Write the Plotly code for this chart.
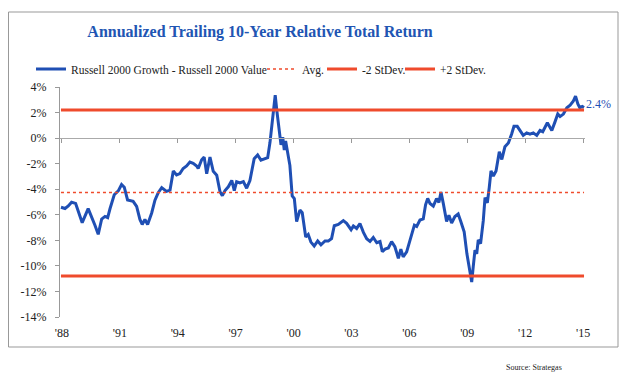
import plotly.graph_objects as go

# ---- data (decimal year, % annualized trailing 10-yr relative return) ----
years = [1987.95, 1988.16, 1988.33, 1988.50, 1988.71, 1988.88, 1989.05, 1989.36, 1989.54, 1989.71,
         1989.88, 1990.06, 1990.23, 1990.37, 1990.49, 1990.71, 1990.92, 1991.09, 1991.23, 1991.40,
         1991.69, 1991.87, 1992.04, 1992.16, 1992.30, 1992.44, 1992.65, 1992.82, 1992.99, 1993.17,
         1993.42, 1993.60, 1993.77, 1993.94, 1994.11, 1994.28, 1994.46, 1994.63, 1994.80, 1994.98,
         1995.06, 1995.24, 1995.37, 1995.50, 1995.67, 1995.84, 1996.02, 1996.19, 1996.31, 1996.45,
         1996.62, 1996.80, 1996.93, 1997.05, 1997.22, 1997.40, 1997.57, 1997.74, 1997.96, 1998.14,
         1998.31, 1998.48, 1998.66, 1998.78, 1998.90, 1999.00, 1999.05, 1999.14, 1999.24, 1999.35,
         1999.44, 1999.52, 1999.59, 1999.69, 1999.81, 1999.93, 2000.04, 2000.16, 2000.33, 2000.45,
         2000.63, 2000.76, 2000.90, 2001.07, 2001.25, 2001.42, 2001.63, 2001.80, 2001.97, 2002.11,
         2002.32, 2002.58, 2002.75, 2002.98, 2003.10, 2003.27, 2003.44, 2003.62, 2003.79, 2003.96,
         2004.13, 2004.31, 2004.48, 2004.60, 2004.74, 2004.91, 2005.08, 2005.25, 2005.43, 2005.56,
         2005.68, 2005.86, 2005.98, 2006.15, 2006.26, 2006.38, 2006.55, 2006.72, 2006.84, 2006.95,
         2007.07, 2007.24, 2007.41, 2007.53, 2007.64, 2007.76, 2007.93, 2008.05, 2008.19, 2008.36,
         2008.53, 2008.67, 2008.84, 2008.98, 2009.10, 2009.23, 2009.31, 2009.40, 2009.49, 2009.57,
         2009.69, 2009.83, 2009.92, 2010.04, 2010.14, 2010.23, 2010.35, 2010.49, 2010.66, 2010.79,
         2010.95, 2011.13, 2011.30, 2011.42, 2011.59, 2011.73, 2011.90, 2012.08, 2012.25, 2012.42,
         2012.60, 2012.77, 2012.91, 2013.15, 2013.38, 2013.55, 2013.69, 2013.81, 2013.98, 2014.16,
         2014.33, 2014.49, 2014.61, 2014.73, 2014.83, 2014.96, 2015.05]

growth_minus_value = [
    -5.41, -5.51, -5.31, -5.02, -5.11, -5.82, -6.62, -5.52, -6.12, -6.82,
    -7.53, -6.33, -6.13, -6.23, -5.53, -4.43, -4.13, -3.63, -3.84, -4.84,
    -4.95, -5.35, -6.36, -6.76, -6.36, -6.76, -5.86, -4.86, -4.27, -3.87,
    -4.17, -4.07, -2.57, -2.88, -2.78, -2.38, -2.18, -1.88, -1.98, -2.18,
    -2.38, -1.69, -1.49, -2.79, -1.49, -2.60, -2.90, -4.20, -4.50, -4.10,
    -3.81, -3.31, -4.11, -3.41, -3.51, -3.41, -3.92, -3.32, -1.62, -1.32,
    -1.72, -1.62, -1.53, -0.33, 1.27, 2.57, 3.37, 2.07, 0.97, -0.53,
    0.07, -0.93, -0.23, -1.13, -2.13, -4.53, -4.73, -6.53, -5.63, -5.84,
    -7.74, -7.54, -8.14, -8.45, -8.05, -8.35, -8.05, -8.06, -7.86, -6.86,
    -6.76, -6.46, -6.67, -7.17, -6.87, -7.07, -6.68, -7.38, -7.88, -8.08,
    -7.78, -8.19, -8.09, -8.89, -8.69, -8.60, -8.10, -8.50, -9.40, -8.70,
    -9.30, -8.90, -8.21, -7.41, -6.81, -6.91, -6.41, -6.32, -5.22, -4.72,
    -5.12, -5.32, -4.73, -5.03, -4.23, -5.13, -6.53, -6.04, -6.64, -6.14,
    -5.94, -6.54, -7.34, -9.04, -10.05, -11.26, -10.05, -8.76, -9.06, -7.96,
    -8.26, -6.46, -4.66, -5.06, -3.87, -2.57, -2.97, -2.57, -1.07, -1.67,
    -0.68, -0.38, 0.32, 0.92, 0.92, 0.61, 0.21, 0.41, 0.31, 0.41,
    0.21, 0.60, 0.50, 1.20, 0.60, 1.29, 1.89, 1.69, 1.88, 2.38,
    2.58, 2.88, 3.28, 2.68, 2.38, 2.48, 2.40]

average = -4.25
minus_2_sd = -10.8
plus_2_sd = 2.2

tick_years = [1988, 1991, 1994, 1997, 2000, 2003, 2006, 2009, 2012, 2015]
tick_labels = ["'88", "'91", "'94", "'97", "'00", "'03", "'06", "'09", "'12", "'15"]
y_ticks = [4, 2, 0, -2, -4, -6, -8, -10, -12, -14]
y_labels = [f"{v}%" for v in y_ticks]

title = "Annualized Trailing 10-Year Relative Total Return"
series_name = "Russell 2000 Growth - Russell 2000 Value"
source = "Source: Strategas"

BLUE = "#1f4fb4"
RED = "#ef4b2c"
SERIF = "Liberation Serif, DejaVu Serif, serif"

# page body has an 8px margin, so the figure is 8px smaller and everything is offset by 8px
W, H = 620, 368
L, T, PW, PH = 52, 79, 525, 230   # plot-area origin and size in figure pixels

x_span = [years[0], years[-1]]

fig = go.Figure()
fig.add_trace(go.Scatter(x=years, y=growth_minus_value, mode="lines", name=series_name,
                         line=dict(color=BLUE, width=3), legend="legend"))
fig.add_trace(go.Scatter(x=x_span, y=[average, average], mode="lines", name="Avg.",
                         line=dict(color=RED, width=1.5, dash="dot"), legend="legend2"))
fig.add_trace(go.Scatter(x=x_span, y=[minus_2_sd, minus_2_sd], mode="lines", name="-2 StDev.",
                         line=dict(color=RED, width=3), legend="legend3"))
fig.add_trace(go.Scatter(x=x_span, y=[plus_2_sd, plus_2_sd], mode="lines", name="+2 StDev.",
                         line=dict(color=RED, width=3), legend="legend4"))
# invisible trace on the zero-line axis so its ticks render
fig.add_trace(go.Scatter(x=x_span, y=[0, 0], xaxis="x2", mode="lines",
                         line=dict(width=0), showlegend=False, hoverinfo="skip"))


def leg(px):
    return dict(orientation="h", x=px / W, xanchor="left", xref="container",
                y=1 - 61 / H, yanchor="middle", yref="container",
                font=dict(family=SERIF, size=11.5, color="#222"),
                bgcolor="rgba(0,0,0,0)", itemwidth=30)


def px_x(px):
    return (px - L) / PW


def px_y(py):
    return (T + PH - py) / PH


fig.update_layout(
    width=W, height=H,
    margin=dict(l=L, r=W - L - PW, t=T, b=H - T - PH, autoexpand=False),
    paper_bgcolor="white", plot_bgcolor="white",
    font=dict(family=SERIF, size=12, color="#222"),
    title=dict(text=f"<b>{title}</b>", x=252 / W, xanchor="center", xref="container",
               y=1 - 23 / H, yanchor="middle", yref="container",
               font=dict(family=SERIF, size=16, color="#2155b3")),
    legend=leg(23), legend2=leg(254), legend3=leg(314), legend4=leg(392),
    xaxis=dict(range=[1987.9, 2015.1], tickvals=tick_years, ticktext=tick_labels,
               showgrid=False, zeroline=False, showline=False, ticks="",
               ticklabelstandoff=7, tickfont=dict(size=12, color="#222")),
    xaxis2=dict(overlaying="x", matches="x", anchor="free", position=14 / 18, side="bottom",
                tickvals=tick_years, showticklabels=False, ticks="outside", ticklen=4,
                tickcolor="#999", showline=True, linecolor="#aaa", linewidth=1,
                showgrid=False, zeroline=False),
    yaxis=dict(range=[-14, 4], tickvals=y_ticks, ticktext=y_labels, showgrid=False,
               zeroline=False, showline=True, linecolor="#999", linewidth=1,
               ticks="outside", ticklen=4, tickcolor="#999", ticklabelstandoff=6,
               tickfont=dict(size=12, color="#222")),
    annotations=[
        dict(x=years[-1], y=growth_minus_value[-1], xref="x", yref="y", text="2.4%",
             showarrow=False, xanchor="left", yanchor="middle", xshift=0, yshift=3,
             font=dict(family=SERIF, size=12, color=BLUE)),
        dict(x=px_x(496), y=px_y(359), xref="paper", yref="paper", text=source,
             showarrow=False, xanchor="left", yanchor="middle",
             font=dict(family=SERIF, size=8, color="#222")),
    ],
    shapes=[dict(type="rect", xref="paper", yref="paper",
                 x0=px_x(0.5), x1=px_x(610), y0=px_y(339), y1=px_y(4),
                 line=dict(color="#999", width=1), fillcolor="rgba(0,0,0,0)", layer="below")],
)

fig.write_html("out.html")
